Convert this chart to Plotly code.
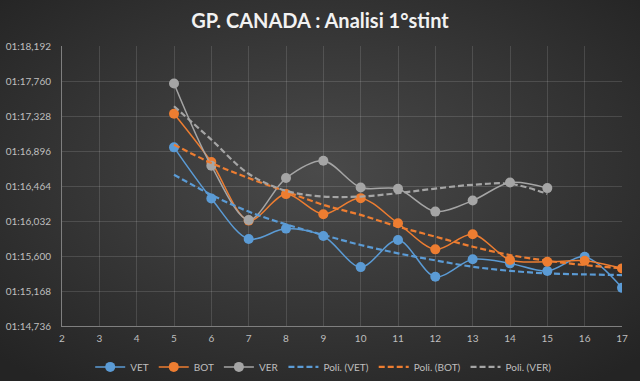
import base64
import plotly.graph_objects as go

laps_vet = [5, 6, 7, 8, 9, 10, 11, 12, 13, 14, 15, 16, 17]
vet = [76.941, 76.309, 75.810, 75.938, 75.847, 75.463, 75.798, 75.343, 75.559, 75.509, 75.414, 75.591, 75.207]
laps_bot = [5, 6, 7, 8, 9, 10, 11, 12, 13, 14, 15, 16, 17]
bot = [77.355, 76.760, 76.037, 76.364, 76.116, 76.314, 76.004, 75.682, 75.868, 75.550, 75.529, 75.541, 75.447]
laps_ver = [5, 6, 7, 8, 9, 10, 11, 12, 13, 14, 15]
ver = [77.730, 76.714, 76.045, 76.562, 76.776, 76.445, 76.429, 76.148, 76.284, 76.507, 76.438]

# polynomial trendlines, values at each lap
trend_vet = [76.603, 76.355, 76.148, 75.990, 75.860, 75.736, 75.633, 75.546, 75.467, 75.417, 75.385, 75.373, 75.364]
trend_bot = [76.974, 76.748, 76.562, 76.396, 76.231, 76.107, 75.962, 75.839, 75.715, 75.612, 75.541, 75.488, 75.447]
trend_ver = [77.449, 77.036, 76.615, 76.405, 76.334, 76.334, 76.376, 76.432, 76.479, 76.491, 76.367]

y_ticks = [74.736, 75.168, 75.600, 76.032, 76.464, 76.896, 77.328, 77.760, 78.192]
y_labels = ["01:14,736", "01:15,168", "01:15,600", "01:16,032", "01:16,464",
            "01:16,896", "01:17,328", "01:17,760", "01:18,192"]
x_ticks = list(range(2, 18))

colors = {"VET": "#5b9bd5", "BOT": "#ed7d31", "VER": "#a5a5a5"}
series = [("VET", laps_vet, vet, trend_vet), ("BOT", laps_bot, bot, trend_bot),
          ("VER", laps_ver, ver, trend_ver)]

fig = go.Figure()
for name, xs, ys, _ in series:
    fig.add_trace(go.Scatter(
        x=xs, y=ys, name=name, mode="lines+markers",
        line=dict(color=colors[name], width=1.5, shape="spline", smoothing=0.9),
        marker=dict(size=10, color=colors[name], line=dict(width=0)),
    ))
for name, xs, _, tr in series:
    fig.add_trace(go.Scatter(
        x=xs, y=tr, name=f"Poli. ({name})", mode="lines",
        line=dict(color=colors[name], width=2.2, dash="6px,3px", shape="spline", smoothing=1),
    ))

# radial background gradient
svg = ("<svg xmlns='http://www.w3.org/2000/svg' width='640' height='381' "
       "preserveAspectRatio='none' viewBox='0 0 640 381'><defs>"
       "<radialGradient id='g' cx='50%' cy='45%' r='70%'>"
       "<stop offset='0' stop-color='#4a4a4a'/><stop offset='1' stop-color='#242424'/>"
       "</radialGradient></defs><rect width='640' height='381' fill='url(#g)'/></svg>")
bg_src = "data:image/svg+xml;base64," + base64.b64encode(svg.encode()).decode()

W, H, L, R, T, B = 640, 381, 62, 18, 46, 55
pw, ph = W - L - R, H - T - B

grid = "rgba(255,255,255,0.13)"
fig.update_layout(
    width=W, height=H,
    paper_bgcolor="#383838", plot_bgcolor="rgba(0,0,0,0)",
    margin=dict(l=L, r=R, t=T, b=B),
    images=[dict(source=bg_src, xref="paper", yref="paper",
                 x=-L / pw, y=1 + T / ph, sizex=W / pw, sizey=H / ph,
                 xanchor="left", yanchor="top", sizing="stretch", layer="below")],
    title=dict(text="<b>GP. CANADA : Analisi 1°stint</b>", x=0.5, xanchor="center",
               y=0.945, yanchor="middle",
               font=dict(family="Lato", size=20, color="#f2f2f2")),
    font=dict(family="Lato", size=10, color="#bfbfbf"),
    showlegend=True,
    legend=dict(orientation="h", xref="container", x=0.505, xanchor="center",
                yref="container", y=0.037, yanchor="middle",
                font=dict(size=10, color="#bfbfbf"), bgcolor="rgba(0,0,0,0)",
                itemwidth=30),
    xaxis=dict(range=[2, 17], tickvals=x_ticks, showgrid=True, gridcolor=grid,
               gridwidth=1, zeroline=False, showline=True, linecolor="#7f7f7f",
               ticks="", ticklabelstandoff=3, automargin=False,
               tickfont=dict(size=10, color="#bfbfbf")),
    yaxis=dict(range=[74.736, 78.192], tickvals=y_ticks, ticktext=y_labels,
               showgrid=True, gridcolor=grid, gridwidth=1, zeroline=False,
               showline=True, linecolor="#7f7f7f", ticks="", ticklabelstandoff=8,
               automargin=False, tickfont=dict(size=10, color="#bfbfbf")),
)

fig.write_html("out.html", config={"displayModeBar": False},
               post_script="document.body.style.margin='0';")
